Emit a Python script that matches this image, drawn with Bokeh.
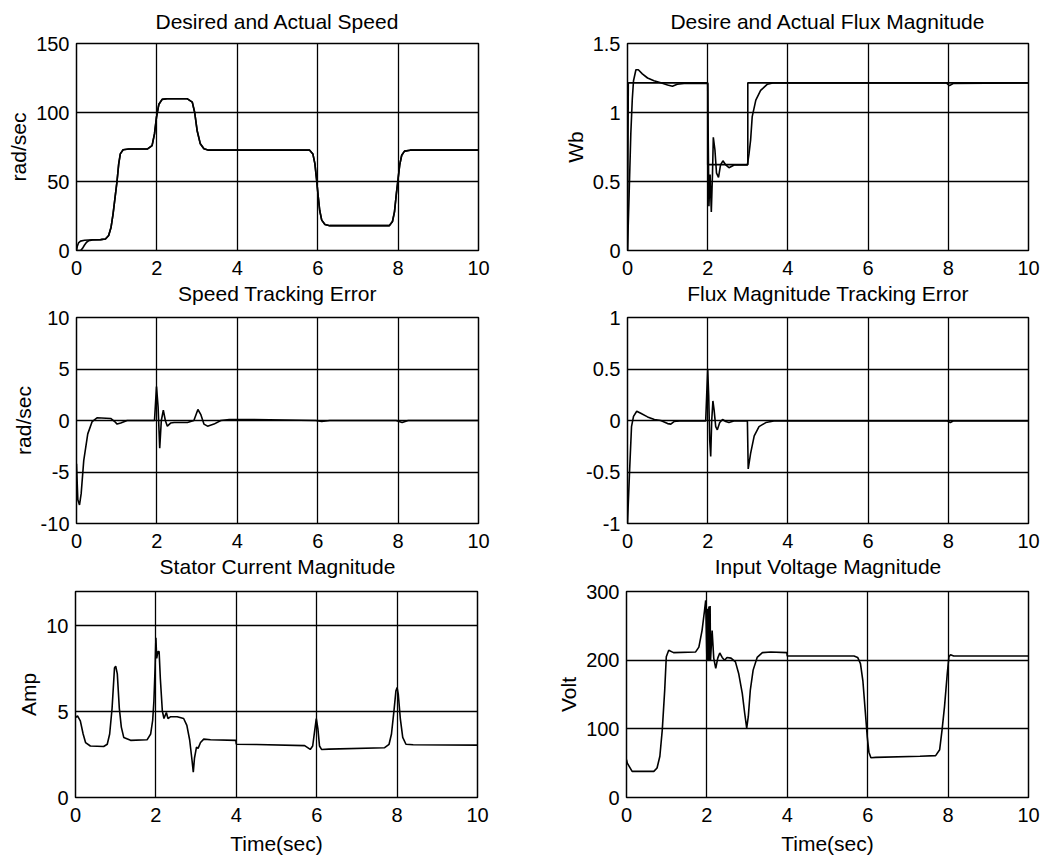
from bokeh.plotting import figure
from bokeh.layouts import column, row
from bokeh.models import Range1d, FixedTicker, Title
from bokeh.embed import file_html
from bokeh.resources import INLINE

FONT = "Liberation Sans"

# ---------------- data ----------------
time_ticks = [0, 2, 4, 6, 8, 10]

speed_des_t = [0, 0.02, 0.05, 0.1, 0.2, 0.3, 0.4, 0.6, 0.72, 0.8, 0.86, 0.91, 0.97, 1.01, 1.05, 1.09,
               1.16, 1.3, 1.76, 1.88, 1.94, 1.99, 2.05, 2.13, 2.25, 2.75, 2.88, 2.94, 3.0, 3.08, 3.17,
               3.29, 3.5, 5.8, 5.88, 5.93, 5.97, 6.01, 6.05, 6.1, 6.18, 6.3, 7.78, 7.86, 7.91, 7.96,
               8.0, 8.04, 8.09, 8.16, 8.3, 10]
speed_des = [0, 3, 5.5, 6.8, 7.4, 7.6, 7.8, 7.9, 8.3, 10.9, 16.9, 26.6, 41, 50.7, 62.8, 70,
             73, 73.5, 73.5, 76, 84.5, 96.6, 106, 109.5, 110, 110, 107.5, 100, 87, 77.3, 73.7,
             72.7, 72.7, 72.7, 70, 63, 52, 40, 29, 22, 18.8, 18, 18, 21, 28, 42,
             52, 62, 69, 72, 72.7, 72.7]
speed_act_t = [0, 0.1, 0.15, 0.2, 0.25, 0.3, 0.4, 0.6, 0.72, 0.8, 0.86, 0.91, 0.97, 1.01, 1.05, 1.09,
               1.16, 1.3, 1.76, 1.88, 1.94, 1.99, 2.05, 2.13, 2.25, 2.75, 2.88, 2.94, 3.0, 3.08, 3.17,
               3.29, 3.5, 5.8, 5.88, 5.93, 5.97, 6.01, 6.05, 6.1, 6.18, 6.3, 7.78, 7.86, 7.91, 7.96,
               8.0, 8.04, 8.09, 8.16, 8.3, 10]
speed_act = [0, 0, 1.5, 4, 6, 7, 7.6, 7.9, 8.3, 10.9, 16.9, 26.6, 41, 50.7, 62.8, 70,
             73, 73.5, 73.5, 76, 84.5, 96.6, 106, 109.5, 110, 110, 107.5, 100, 87, 77.3, 73.7,
             72.7, 72.7, 72.7, 70, 63, 52, 40, 29, 22, 18.8, 18, 18, 21, 28, 42,
             52, 62, 69, 72, 72.7, 72.7]

flux_des_t = [0, 0.02, 2.0, 2.0, 3.0, 3.0, 10]
flux_des = [0, 1.215, 1.215, 0.622, 0.622, 1.215, 1.215]
flux_act_t = [0, 0.04, 0.083, 0.12, 0.15, 0.21, 0.27, 0.37, 0.5, 0.66, 0.83, 1.0, 1.12, 1.24, 1.41, 2.0,
              2.01, 2.03, 2.06, 2.09, 2.12, 2.14, 2.18, 2.22, 2.27, 2.32, 2.38, 2.45, 2.53, 2.66, 2.99,
              3.03, 3.07, 3.11, 3.2, 3.32, 3.49, 3.65, 7.95, 8.03, 8.12, 10]
flux_act = [0, 0.4, 0.85, 1.1, 1.23, 1.31, 1.31, 1.28, 1.25, 1.23, 1.215, 1.2, 1.19, 1.205, 1.21, 1.21,
            0.9, 0.32, 0.55, 0.28, 0.56, 0.82, 0.73, 0.56, 0.53, 0.62, 0.65, 0.62, 0.6, 0.62, 0.62,
            0.7, 0.8, 0.97, 1.09, 1.16, 1.205, 1.215, 1.215, 1.195, 1.21, 1.215]

speed_err_t = [0, 0.033, 0.075, 0.116, 0.18, 0.28, 0.39, 0.51, 0.85, 0.95, 1.01, 1.1, 1.26, 1.94, 1.99,
               2.03, 2.07, 2.11, 2.16, 2.21, 2.26, 2.34, 2.43, 2.76, 2.92, 3.02, 3.09, 3.17, 3.26, 3.42,
               3.59, 3.8, 4.4, 5.95, 6.1, 6.3, 7.95, 8.1, 8.25, 10]
speed_err = [-4.2, -7.7, -8.2, -7.1, -3.9, -1.3, -0.1, 0.26, 0.2, -0.1, -0.35, -0.25, 0, 0, 3.3,
             1.3, -2.7, 0, 1.0, 0, -0.55, -0.25, -0.2, -0.2, 0, 1.07, 0.6, -0.35, -0.55, -0.35,
             0, 0.1, 0.1, 0, -0.1, 0, 0, -0.2, 0, 0]

flux_err_t = [0, 0.02, 0.05, 0.1, 0.15, 0.23, 0.33, 0.5, 0.67, 0.83, 1.0, 1.08, 1.16, 1.3, 1.95, 2.0,
              2.025, 2.05, 2.075, 2.1, 2.13, 2.16, 2.2, 2.24, 2.3, 2.37, 2.45, 2.53, 2.65, 2.99, 3.01,
              3.07, 3.16, 3.28, 3.45, 3.65, 7.98, 8.05, 8.12, 10]
flux_err = [-1, -0.8, -0.51, -0.06, 0.04, 0.09, 0.07, 0.035, 0.01, 0.0, -0.03, -0.035, -0.01, -0.005,
            -0.005, 0.5, 0.24, -0.19, -0.35, 0.0, 0.19, 0.1, -0.06, -0.09, -0.02, 0.01, -0.01, -0.02,
            -0.005, -0.005, -0.47, -0.32, -0.15, -0.06, -0.02, -0.005, -0.005, -0.02, -0.005, -0.005]

current_t = [0, 0.05, 0.12, 0.19, 0.25, 0.37, 0.7, 0.79, 0.85, 0.91, 0.97, 1.0, 1.04, 1.09, 1.14, 1.2,
             1.37, 1.78, 1.87, 1.92, 1.95, 1.98, 2.0, 2.02, 2.05, 2.08, 2.11, 2.16, 2.2, 2.26, 2.3,
             2.36, 2.53, 2.69, 2.77, 2.84, 2.9, 2.93, 2.96, 3.01, 3.05, 3.11, 3.19, 3.36, 3.99, 4.0,
             4.5, 5.7, 5.84, 5.9, 5.95, 5.99, 6.03, 6.07, 6.12, 6.3, 7.69, 7.8, 7.86, 7.92, 7.97,
             8.0, 8.03, 8.08, 8.14, 8.22, 8.4, 10]
current = [4.66, 4.75, 4.46, 3.7, 3.2, 3.0, 2.97, 3.1, 3.7, 5.2, 7.55, 7.65, 7.2, 5.2, 4.1, 3.5,
           3.33, 3.36, 3.7, 4.5, 5.6, 7.55, 9.3, 8.1, 8.5, 8.5, 6.95, 5.05, 4.6, 4.95, 4.6,
           4.7, 4.7, 4.6, 4.2, 3.35, 2.14, 1.47, 2.3, 2.93, 2.86, 3.2, 3.4, 3.36, 3.33, 3.1,
           3.09, 3.02, 2.8, 3.0, 3.9, 4.6, 4.0, 3.0, 2.8, 2.82, 2.9, 3.1, 3.7, 5.0, 6.2,
           6.4, 6.0, 4.6, 3.5, 3.1, 3.07, 3.05]

voltage_t = [0, 0.02, 0.14, 0.68, 0.76, 0.83, 0.89, 0.95, 0.99, 1.05, 1.17, 1.72, 1.8, 1.88, 1.94,
             1.97, 2.0, 2.02, 2.03, 2.05, 2.06, 2.08, 2.09, 2.13, 2.17, 2.22, 2.27, 2.32, 2.38, 2.44,
             2.5, 2.6, 2.71, 2.79, 2.88, 2.94, 2.99, 3.03, 3.08, 3.15, 3.25, 3.38, 3.59, 3.99, 4.0,
             5.66, 5.75, 5.82, 5.88, 5.94, 5.99, 6.03, 6.08, 6.2, 7.3, 7.69, 7.79, 7.85, 7.91, 7.98,
             8.02, 8.06, 8.14, 10]
voltage = [55, 50, 38, 38, 43, 60, 98.5, 156, 205, 214.5, 211, 212, 219, 243.5, 272,
           287, 200, 275, 200, 278, 200, 279, 200, 243, 203, 188, 203, 210.5, 204, 200,
           204, 203, 197.5, 180.7, 151.7, 122.7, 101, 118, 156.5, 185.5, 204, 211, 212, 211, 206,
           206, 204, 195, 170, 125, 88, 66, 58, 58.5, 60, 61, 69.6, 98.5, 132, 180.7,
           204.8, 208, 206, 206]


def title_model(text, standoff):
    return Title(text=text, align="center", vertical_align="top", text_font=FONT,
                 text_font_size="21px", text_font_style="normal", text_color="black", standoff=standoff)


def make(ylab, yr, yticks, ylabels, w, h, mbl, mbr, mbt, mbb, top_title=None, next_title=None, xlab=None):
    p = figure(width=w, height=h, x_range=Range1d(0, 10), y_range=Range1d(*yr),
               output_backend="svg", toolbar_location=None, title=None,
               min_border_left=mbl, min_border_right=mbr, min_border_top=mbt, min_border_bottom=mbb,
               background_fill_color="white", border_fill_color=None)
    if top_title:
        p.add_layout(title_model(top_title, 17), "above")
    p.outline_line_color = "black"
    p.outline_line_width = 1.5
    p.outline_line_alpha = 1
    p.xaxis.ticker = FixedTicker(ticks=time_ticks)
    p.yaxis.ticker = FixedTicker(ticks=yticks)
    p.yaxis.major_label_overrides = dict(zip(yticks, ylabels))
    p.xaxis.major_label_overrides = {t: str(t) for t in time_ticks}
    for ax in (p.xaxis[0], p.yaxis[0]):
        ax.axis_line_color = None
        ax.major_tick_in = 0
        ax.major_tick_out = 0
        ax.minor_tick_line_color = None
        ax.major_label_text_font = FONT
        ax.major_label_text_font_size = "20px"
        ax.major_label_text_color = "black"
        ax.axis_label_text_font = FONT
        ax.axis_label_text_font_size = "21px"
        ax.axis_label_text_font_style = "normal"
        ax.axis_label_text_color = "black"
    p.yaxis.major_label_standoff = 7
    p.yaxis.axis_label_standoff = 3
    p.xaxis.major_label_standoff = 10
    p.xaxis.axis_label_standoff = 7
    if ylab:
        p.yaxis.axis_label = ylab
    if xlab:
        p.xaxis.axis_label = xlab
    if next_title:
        p.add_layout(title_model(next_title, 8), "below")
    for g in (p.xgrid[0], p.ygrid[0]):
        g.grid_line_color = "black"
        g.grid_line_width = 1.3
        g.grid_line_alpha = 1
    return p


LW, RW = 520, 522
OVERLAP = 16

p1 = make("rad/sec", (0, 150), [0, 50, 100, 150], ["0", "50", "100", "150"],
          LW, 320, 76, 42, 43, 70, top_title="Desired and Actual Speed", next_title="Speed Tracking Error")
p1.line(speed_des_t, speed_des, line_color="black", line_width=1.6)
p1.line(speed_act_t, speed_act, line_color="black", line_width=1.6)

p2 = make("Wb", (0, 1.5), [0, 0.5, 1, 1.5], ["0", "0.5", "1", "1.5"],
          RW, 320, 107, 14, 43, 70, top_title="Desire and Actual Flux Magnitude",
          next_title="Flux Magnitude Tracking Error")
p2.line(flux_des_t, flux_des, line_color="black", line_width=1.6)
p2.line(flux_act_t, flux_act, line_color="black", line_width=1.6)

p3 = make("rad/sec", (-10, 10), [-10, -5, 0, 5, 10], ["-10", "-5", "0", "5", "10"],
          LW, 289, 76, 42, 13, 70, next_title="Stator Current Magnitude")
p3.line(speed_err_t, speed_err, line_color="black", line_width=1.6)

p4 = make(None, (-1, 1), [-1, -0.5, 0, 0.5, 1], ["-1", "-0.5", "0", "0.5", "1"],
          RW, 289, 107, 14, 13, 70, next_title="Input Voltage Magnitude")
p4.line(flux_err_t, flux_err, line_color="black", line_width=1.6)

p5 = make("Amp", (0, 12), [0, 5, 10], ["0", "5", "10"],
          LW, 280, 75, 43, 13, 60, xlab="Time(sec)")
p5.line(current_t, current, line_color="black", line_width=1.6)

p6 = make("Volt", (0, 300), [0, 100, 200, 300], ["0", "100", "200", "300"],
          RW, 280, 106, 14, 14, 59, xlab="Time(sec)")
p6.line(voltage_t, voltage, line_color="black", line_width=1.6)

layout = column(row(p1, p2),
                row(p3, p4, margin=(-OVERLAP, 0, 0, 0)),
                row(p5, p6, margin=(-OVERLAP, 0, 0, 0)))

open("out.html", "w").write(file_html(layout, INLINE))
